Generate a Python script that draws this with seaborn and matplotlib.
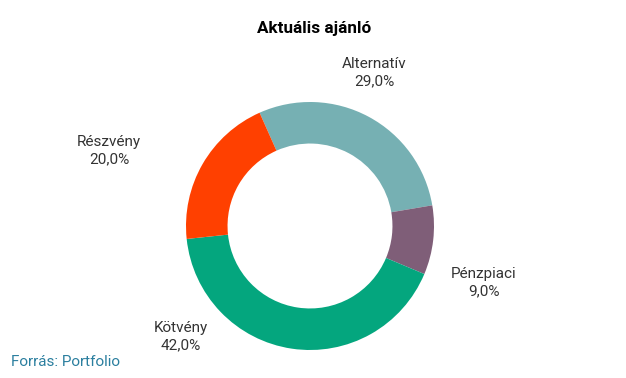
import matplotlib
matplotlib.use("Agg")
import matplotlib.pyplot as plt
import seaborn as sns

# data
categories = ["Alternatív", "Pénzpiaci", "Kötvény", "Részvény"]
values = [29.0, 9.0, 42.0, 20.0]
colors = ["#76b0b3", "#7f5e78", "#04a67e", "#ff4000"]
# label anchors (pie units, radius = 1)
label_pos = [(0.52, 1.24), (1.40, -0.46), (-1.04, -0.89), (-1.62, 0.61)]

sns.set_theme(style="white")
plt.rcParams["font.family"] = ["Roboto", "DejaVu Sans"]

fig = plt.figure(figsize=(6.26, 3.78), dpi=100)
ax = fig.add_axes([0, 0, 1, 1])

ax.pie(values, colors=colors, startangle=114, counterclock=False,
       radius=1.0, wedgeprops=dict(width=0.335, linewidth=0))

for name, val, (x, y) in zip(categories, values, label_pos):
    txt = f"{name}\n{val:.1f}%".replace(".", ",")
    ax.text(x, y, txt, ha="center", va="center", fontsize=11,
            color="#333333", linespacing=1.3)

# place the donut: centre at (310, 226) px, radius 124 px
r = 124.0
ax.set_xlim(-310 / r, (626 - 310) / r)
ax.set_ylim(-(378 - 226) / r, 226 / r)
ax.set_aspect("auto")
ax.axis("off")

fig.text(0.502, 1 - 29 / 378, "Aktuális ajánló", ha="center", va="center",
         fontsize=12.3, fontweight="bold", color="#000000")
fig.text(11 / 626, 1 - 362 / 378, "Forrás: Portfolio", ha="left", va="center",
         fontsize=11, color="#2b7f9f")

plt.savefig("out.png", dpi=100)
